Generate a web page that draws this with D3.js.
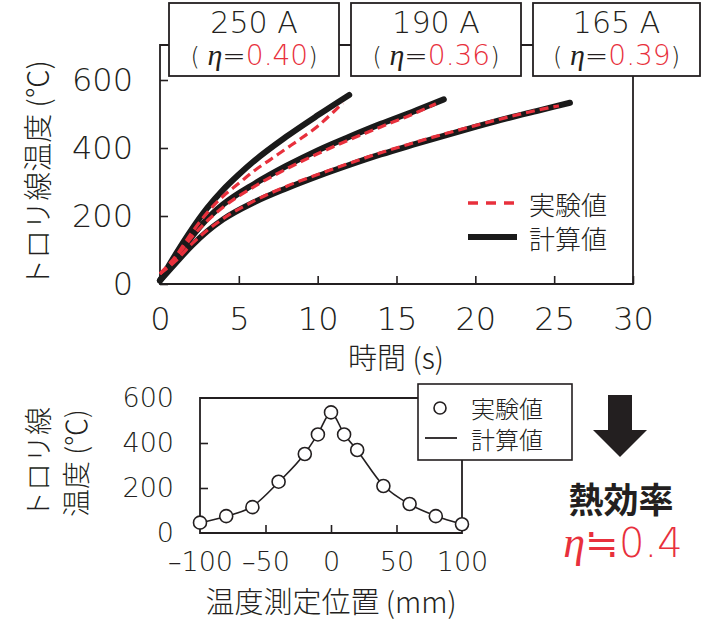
<!DOCTYPE html>
<html>
<head>
<meta charset="utf-8">
<script src="https://cdn.jsdelivr.net/npm/d3@7"></script>
<style>
body { margin: 0; background: #fff; }
text { fill: #231f20; }
</style>
</head>
<body>
<div id="chart"></div>
<script>
// top chart: 3 currents, temperature vs time
var currents = ["250 A", "190 A", "165 A"];
var etas = ["0.40", "0.36", "0.39"];

var calcTime250 = [0, 1, 2, 3, 4, 5, 6, 8, 10, 12];
var calcTemp250 = [10, 88, 160, 224, 277, 322, 363, 433, 496, 556];
var calcTime190 = [0, 1, 2, 3, 4, 6, 8, 10, 12, 14, 16, 18];
var calcTemp190 = [10, 75, 138, 192, 234, 295, 347, 393, 433, 471, 506, 543];
var calcTime165 = [0, 1, 2, 3, 4, 6, 8, 10, 12, 14, 16, 18, 20, 22, 24, 26];
var calcTemp165 = [10, 62, 112, 155, 190, 241, 281, 317, 350, 381, 409, 436, 462, 487, 510, 533];

var expTime250 = [0, 1, 2, 3, 4, 5, 6, 7, 8, 9, 10, 11, 11.6];
var expTemp250 = [30, 82, 150, 210, 258, 296, 334, 366, 398, 430, 464, 506, 532];
var expTime190 = [0, 1, 2, 3, 4, 6, 8, 10, 12, 14, 16, 17.5];
var expTemp190 = [30, 78, 137, 186, 226, 287, 338, 383, 424, 462, 499, 530];
var expTime165 = [0, 1, 2, 3, 4, 6, 8, 10, 12, 14, 16, 18, 20, 22, 24, 25.3];
var expTemp165 = [30, 68, 117, 158, 192, 245, 287, 322, 355, 386, 414, 441, 466, 490, 512, 524];

var topXTicks = [0, 5, 10, 15, 20, 25, 30];
var topYTicks = [0, 200, 400, 600];

// bottom chart: temperature distribution along the wire
var position = [-100, -80, -60, -40, -20, -10, 0, 10, 20, 40, 60, 80, 100];
var expProfile = [46, 75, 115, 228, 351, 438, 536, 438, 369, 209, 129, 75, 39];
var calcProfile = [44, 74, 118, 226, 353, 440, 534, 440, 367, 211, 128, 76, 40];
var botXTicks = [-100, -50, 0, 50, 100];
var botYTicks = [0, 200, 400, 600];

var red = "#e8303c";
var ink = "#231f20";
var numFont = "DejaVu Sans";
var numWeight = 200;
var jpFont = "Noto Sans CJK JP";
var jpWeight = 300;

var svg = d3.select("#chart").append("svg")
  .attr("width", 703)
  .attr("height", 620);

// ---------- top chart ----------
var x = d3.scaleLinear().domain([0, 30]).range([160, 633]);
var y = d3.scaleLinear().domain([0, 600]).range([284, 80]);

var gx = svg.append("g")
  .attr("transform", "translate(0,284)")
  .call(d3.axisBottom(x).tickValues(topXTicks).tickSize(-8).tickPadding(23));
var gy = svg.append("g")
  .attr("transform", "translate(160,0)")
  .call(d3.axisLeft(y).tickValues(topYTicks).tickSize(-8).tickPadding(27));
[gx, gy].forEach(function (g) {
  g.select(".domain").remove();
  g.selectAll("line").attr("stroke", ink).attr("stroke-width", 1.6);
  g.selectAll("text").attr("font-family", numFont).attr("font-weight", numWeight)
    .attr("font-size", 32).attr("fill", ink);
});

// frame (boxes replace the top edge)
svg.append("path")
  .attr("d", "M169,45H160V284H633V76")
  .attr("fill", "none")
  .attr("stroke", ink)
  .attr("stroke-width", 1.8);

// current boxes
var boxX = [169, 351, 533];
var boxW = [170, 170, 167];
currents.forEach(function (c, i) {
  svg.append("rect")
    .attr("x", boxX[i]).attr("y", 3)
    .attr("width", boxW[i]).attr("height", 73)
    .attr("fill", "#fff").attr("stroke", ink).attr("stroke-width", 1.8);
  var cx = boxX[i] + boxW[i] / 2;
  svg.append("text")
    .attr("x", cx).attr("y", 33)
    .attr("text-anchor", "middle")
    .attr("font-family", numFont).attr("font-weight", numWeight).attr("font-size", 30)
    .text(c);
  var t = svg.append("text")
    .attr("x", cx).attr("y", 65)
    .attr("text-anchor", "middle")
    .attr("font-family", numFont).attr("font-weight", numWeight).attr("font-size", 28);
  t.append("tspan").attr("font-size", 24).text("( ");
  t.append("tspan").attr("font-family", "Liberation Serif").attr("font-style", "italic")
    .attr("font-size", 30).text("η");
  t.append("tspan").text("=");
  t.append("tspan").style("fill", red).text(etas[i]);
  t.append("tspan").attr("font-size", 24).text(")");
});
// connectors between boxes
svg.append("path")
  .attr("d", "M339,45H351M521,45H533")
  .attr("stroke", ink).attr("stroke-width", 1.8);

var line = d3.line()
  .x(function (d) { return x(d[0]); })
  .y(function (d) { return y(d[1]); })
  .curve(d3.curveMonotoneX);

var calcSeries = [
  d3.zip(calcTime250, calcTemp250),
  d3.zip(calcTime190, calcTemp190),
  d3.zip(calcTime165, calcTemp165)
];
var expSeries = [
  d3.zip(expTime250, expTemp250),
  d3.zip(expTime190, expTemp190),
  d3.zip(expTime165, expTemp165)
];

svg.selectAll("path.calc")
  .data(calcSeries)
  .enter().append("path")
  .attr("class", "calc")
  .attr("d", line)
  .attr("fill", "none")
  .attr("stroke", "#1a1a1a")
  .attr("stroke-width", 6)
  .attr("stroke-linecap", "round");

svg.selectAll("path.exp")
  .data(expSeries)
  .enter().append("path")
  .attr("class", "exp")
  .attr("d", line)
  .attr("fill", "none")
  .attr("stroke", red)
  .attr("stroke-width", 3.2)
  .attr("stroke-dasharray", "9,5");

// legend (top)
svg.append("line")
  .attr("x1", 468).attr("x2", 514).attr("y1", 203).attr("y2", 203)
  .attr("stroke", red).attr("stroke-width", 3.5).attr("stroke-dasharray", "10,8");
svg.append("line")
  .attr("x1", 468).attr("x2", 517).attr("y1", 237).attr("y2", 237)
  .attr("stroke", "#1a1a1a").attr("stroke-width", 6);
svg.append("text")
  .attr("x", 529).attr("y", 203).attr("dominant-baseline", "central")
  .attr("font-family", jpFont).attr("font-weight", jpWeight).attr("font-size", 26).text("実験値");
svg.append("text")
  .attr("x", 529).attr("y", 237).attr("dominant-baseline", "central")
  .attr("font-family", jpFont).attr("font-weight", jpWeight).attr("font-size", 26).text("計算値");

// axis titles (top)
svg.append("text")
  .attr("transform", "translate(36,174) rotate(-90)")
  .attr("text-anchor", "middle").attr("dominant-baseline", "central")
  .attr("font-family", jpFont).attr("font-weight", jpWeight).attr("font-size", 29)
  .text("トロリ線温度 (℃)");
svg.append("text")
  .attr("x", 396).attr("y", 356)
  .attr("text-anchor", "middle").attr("dominant-baseline", "central")
  .attr("font-family", jpFont).attr("font-weight", jpWeight).attr("font-size", 29)
  .text("時間 (s)");

// ---------- bottom chart ----------
var x2 = d3.scaleLinear().domain([-100, 100]).range([200, 462]);
var y2 = d3.scaleLinear().domain([0, 600]).range([533, 398]);

var gx2 = svg.append("g")
  .attr("transform", "translate(0,533)")
  .call(d3.axisBottom(x2).tickValues(botXTicks).tickSize(-8).tickPadding(19)
    .tickFormat(function (d) { return d < 0 ? "\u2013" + (-d) : d; }));
var gy2 = svg.append("g")
  .attr("transform", "translate(200,0)")
  .call(d3.axisLeft(y2).tickValues(botYTicks).tickSize(-8).tickPadding(26));
[gx2, gy2].forEach(function (g) {
  g.select(".domain").remove();
  g.selectAll("line").attr("stroke", ink).attr("stroke-width", 1.6);
  g.selectAll("text").attr("font-family", numFont).attr("font-weight", numWeight)
    .attr("font-size", 27).attr("fill", ink);
});
// no ticks drawn at the ends of the bottom axis
gx2.selectAll(".tick line").filter(function (d) { return d === -100 || d === 100; }).remove();
gy2.selectAll(".tick line").filter(function (d) { return d === 0 || d === 600; }).remove();

svg.append("path")
  .attr("d", "M418,398H200V533H462V460")
  .attr("fill", "none").attr("stroke", ink).attr("stroke-width", 1.8);

var line2 = d3.line()
  .x(function (d) { return x2(d[0]); })
  .y(function (d) { return y2(d[1]); })
  .curve(d3.curveMonotoneX);

svg.append("path")
  .datum(d3.zip(position, calcProfile))
  .attr("d", line2)
  .attr("fill", "none").attr("stroke", ink).attr("stroke-width", 1.6);

svg.selectAll("circle.pt")
  .data(d3.zip(position, expProfile))
  .enter().append("circle")
  .attr("class", "pt")
  .attr("cx", function (d) { return x2(d[0]); })
  .attr("cy", function (d) { return y2(d[1]); })
  .attr("r", 6.5)
  .attr("fill", "#fff").attr("stroke", ink).attr("stroke-width", 1.6);

// legend (bottom)
svg.append("rect")
  .attr("x", 418).attr("y", 384).attr("width", 154).attr("height", 76)
  .attr("fill", "#fff").attr("stroke", ink).attr("stroke-width", 1.6);
svg.append("circle")
  .attr("cx", 440).attr("cy", 408).attr("r", 6)
  .attr("fill", "#fff").attr("stroke", ink).attr("stroke-width", 1.6);
svg.append("line")
  .attr("x1", 425).attr("x2", 457).attr("y1", 438).attr("y2", 438)
  .attr("stroke", ink).attr("stroke-width", 1.8);
svg.append("text")
  .attr("x", 471).attr("y", 407).attr("dominant-baseline", "central")
  .attr("font-family", jpFont).attr("font-weight", jpWeight).attr("font-size", 24).text("実験値");
svg.append("text")
  .attr("x", 471).attr("y", 438).attr("dominant-baseline", "central")
  .attr("font-family", jpFont).attr("font-weight", jpWeight).attr("font-size", 24).text("計算値");

// axis titles (bottom)
var yl = svg.append("text")
  .attr("transform", "translate(0,463) rotate(-90)")
  .attr("text-anchor", "middle")
  .attr("font-family", jpFont).attr("font-weight", jpWeight).attr("font-size", 28);
yl.append("tspan").attr("x", 0).attr("y", 49).text("トロリ線");
yl.append("tspan").attr("x", 0).attr("y", 87).text("温度 (℃)");

svg.append("text")
  .attr("x", 331).attr("y", 600)
  .attr("text-anchor", "middle").attr("dominant-baseline", "central")
  .attr("font-family", jpFont).attr("font-weight", jpWeight).attr("font-size", 29)
  .text("温度測定位置 (mm)");

// arrow and thermal efficiency note
svg.append("path")
  .attr("d", "M608,395H632V430H647L620,457L593,430H608Z")
  .attr("fill", "#231f20");
svg.append("text")
  .attr("x", 621).attr("y", 497)
  .attr("text-anchor", "middle").attr("dominant-baseline", "central")
  .attr("font-family", jpFont).attr("font-weight", "bold").attr("font-size", 35)
  .text("熱効率");
var eta = svg.append("text")
  .attr("x", 623).attr("y", 557)
  .attr("text-anchor", "middle")
  .attr("font-family", numFont).attr("font-weight", 300).attr("font-size", 40)
  .style("fill", red);
eta.append("tspan").attr("font-family", "Liberation Serif").attr("font-style", "italic")
  .attr("font-size", 44).style("fill", red).text("η");
eta.append("tspan").style("fill", red).text("≒");
eta.append("tspan").style("fill", red).text("0.4");
</script>
</body>
</html>
